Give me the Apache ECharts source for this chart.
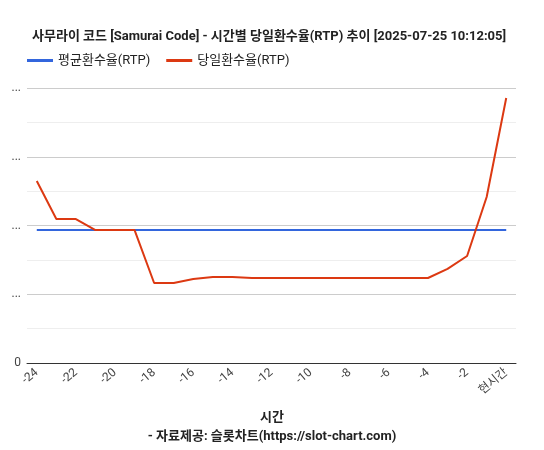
<!DOCTYPE html><html><head><meta charset="utf-8"><script src="https://cdn.jsdelivr.net/npm/echarts@6/dist/echarts.min.js"></script>
<style>body{margin:0}#c{width:544px;height:450px}</style></head><body><div id="c"></div><script>
const hours=[-24,-23,-22,-21,-20,-19,-18,-17,-16,-15,-14,-13,-12,-11,-10,-9,-8,-7,-6,-5,-4,-3,-2,-1,0];
const avgRtp=[96.7,96.7,96.7,96.7,96.7,96.7,96.7,96.7,96.7,96.7,96.7,96.7,96.7,96.7,96.7,96.7,96.7,96.7,96.7,96.7,96.7,96.7,96.7,96.7,96.7];
const dayRtp=[132.4,104.7,104.7,96.7,96.7,96.7,58.2,58.2,61.1,62.5,62.5,61.8,61.8,61.8,61.8,61.8,61.8,61.8,61.8,61.8,61.8,68.4,77.8,120.7,192.7];
const font='Roboto, "Noto Sans CJK KR", sans-serif';
const ch=echarts.init(document.getElementById('c'));
ch.setOption({
 textStyle:{fontFamily:font},
 title:[{text:'사무라이 코드 [Samurai Code] - 시간별 당일환수율(RTP) 추이 [2025-07-25 10:12:05]',left:27,top:25,textStyle:{fontSize:13,fontWeight:'bold',color:'#222',fontFamily:font}},
  {text:'시간',left:'center',top:406,textStyle:{fontSize:13,fontWeight:'bold',color:'#222',fontFamily:font}},
  {text:'- 자료제공: 슬롯차트(https://slot-chart.com)',left:'center',top:425,textStyle:{fontSize:13,fontWeight:'bold',color:'#222',fontFamily:font}}],
 legend:{left:22,top:49,itemWidth:26,itemHeight:3,itemGap:16,icon:'rect',textStyle:{fontSize:13,color:'#222'},data:['평균환수율(RTP)','당일환수율(RTP)']},
 grid:{left:27,right:28,top:88,bottom:87,containLabel:false,outerBoundsMode:'none'},
 xAxis:{type:'category',data:hours,boundaryGap:true,axisTick:{show:false},axisLine:{show:true,lineStyle:{color:'#333'}},
  axisLabel:{interval:1,rotate:40,color:'#444',fontSize:12,formatter:v=>v==0?'현시간':v}},
 yAxis:{type:'value',min:0,max:200,interval:50,name:'당일환수율 %',nameLocation:'middle',nameGap:16,nameRotate:90,
  nameTextStyle:{fontSize:13,fontWeight:'bold',color:'#222'},
  axisLabel:{color:'#444',fontSize:12,margin:6,formatter:v=>v==0?'0':'...'},
  axisLine:{show:false},splitLine:{lineStyle:{color:'#ccc'}},
  minorTick:{show:false,splitNumber:2},minorSplitLine:{show:true,lineStyle:{color:'#eee'}}},
 series:[{name:'평균환수율(RTP)',type:'line',data:avgRtp,symbol:'none',lineStyle:{width:2,color:'#3366dd'},itemStyle:{color:'#3366dd'}},
  {name:'당일환수율(RTP)',type:'line',data:dayRtp,symbol:'none',lineStyle:{width:2,color:'#dc3912'},itemStyle:{color:'#dc3912'}}]
});
</script></body></html>
